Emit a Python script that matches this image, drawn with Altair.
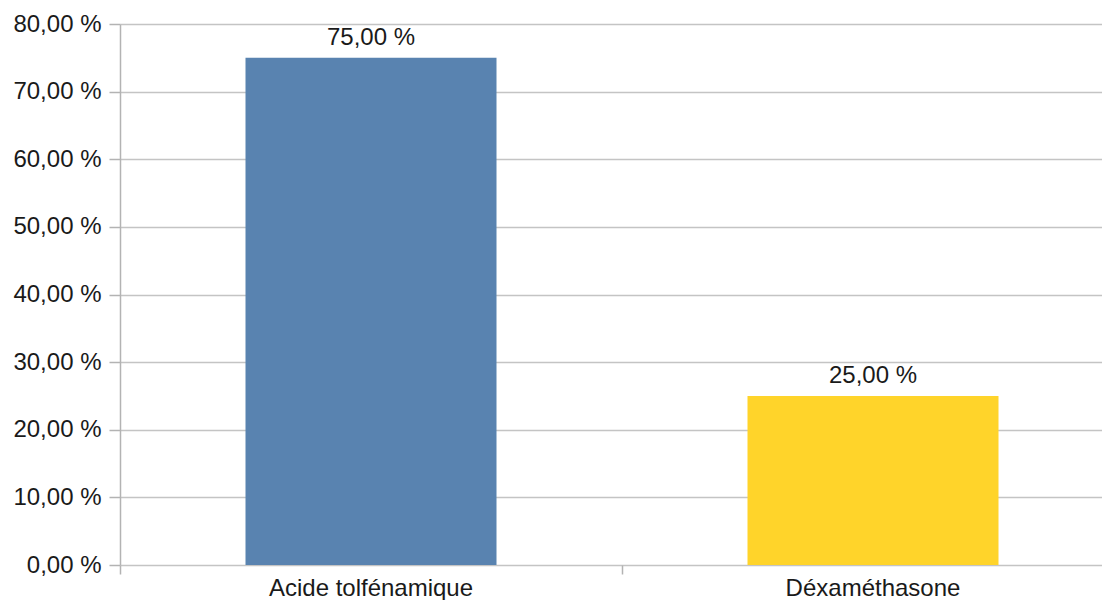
import altair as alt
import pandas as pd

categories = ["Acide tolfénamique", "Déxaméthasone"]
values = [75.0, 25.0]
colors = ["#5983b0", "#ffd42a"]
y_ticks = [0, 10, 20, 30, 40, 50, 60, 70, 80]

df = pd.DataFrame({"cat": categories, "val": values})

FONT = "Liberation Sans"
FS = 24
TXT = "#1a1a1a"

x = alt.X(
    "cat:N",
    sort=categories,
    title=None,
    scale=alt.Scale(range=[0, 1004], paddingInner=0, paddingOuter=0),
    axis=alt.Axis(
        labelAngle=0,
        labelFont=FONT,
        labelFontSize=FS,
        labelColor=TXT,
        labelPadding=2,
        labelLimit=0,
        tickSize=9,
        tickColor="#b3b3b3",
        tickWidth=1.5,
        bandPosition=0,
        domain=False,
        grid=False,
    ),
)

y = alt.Y(
    "val:Q",
    title=None,
    scale=alt.Scale(domain=[0, 80], nice=False),
    axis=alt.Axis(
        values=y_ticks,
        labelExpr="replace(format(datum.value, '.2f'), '.', ',') + ' %'",
        labelFont=FONT,
        labelFontSize=FS,
        labelColor=TXT,
        labelPadding=8,
        tickSize=11,
        tickColor="#b3b3b3",
        tickWidth=1.5,
        domainColor="#b3b3b3",
        domainWidth=1.5,
        gridColor="#c4c4c4",
        gridWidth=1.5,
    ),
)

bars = alt.Chart(df).mark_bar(width=alt.RelativeBandSize(0.5)).encode(
    x=x,
    y=y,
    color=alt.Color("cat:N", scale=alt.Scale(domain=categories, range=colors), legend=None),
)

labels = alt.Chart(df).transform_calculate(
    lab="replace(format(datum.val, '.2f'), '.', ',') + ' %'"
).mark_text(
    baseline="bottom", dy=-8, font=FONT, fontSize=FS, color=TXT
).encode(
    x=alt.X("cat:N", sort=categories),
    y=alt.Y("val:Q"),
    text="lab:N",
)

chart = alt.layer(bars, labels).properties(
    width=982,
    height=541,
    autosize=alt.AutoSizeParams(type="none"),
    padding={"left": 112, "top": 16, "right": 0, "bottom": 35},
).configure_view(stroke=None)

chart.save("out.html", embed_options={"renderer": "svg", "actions": False})
